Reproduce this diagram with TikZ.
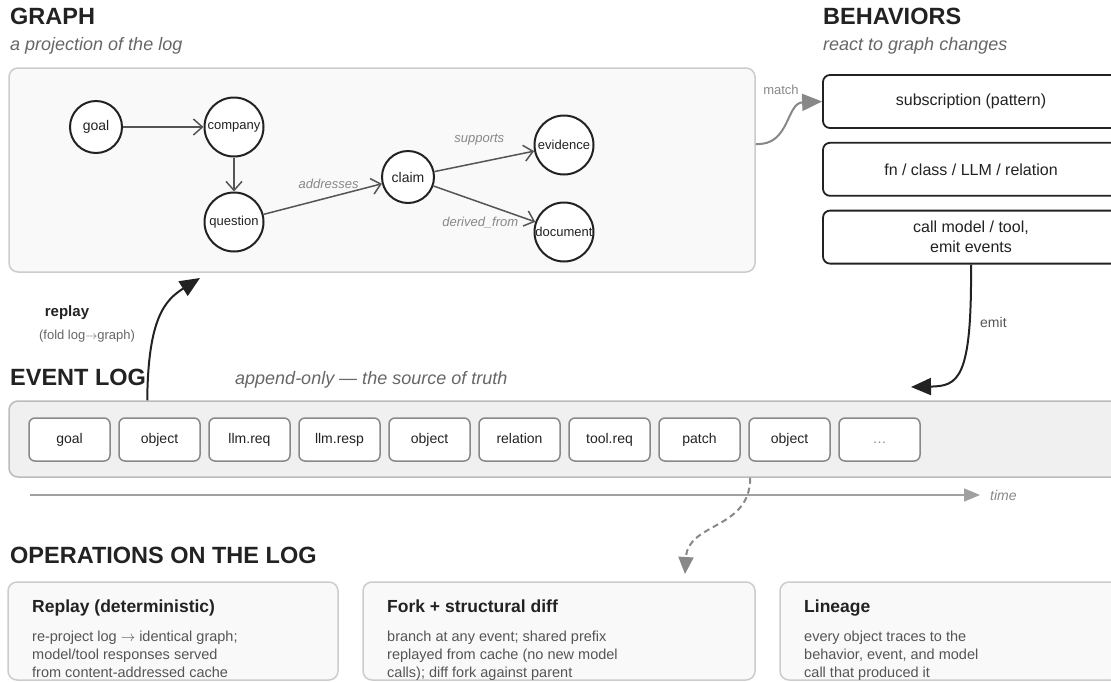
\documentclass[tikz,border=0pt]{standalone}
\usepackage{fontspec}
\setmainfont{Liberation Sans}
\usetikzlibrary{positioning}
\usetikzlibrary{arrows.meta}

\definecolor{ink}{HTML}{222222}
\definecolor{edgegray}{HTML}{555555}
\definecolor{labelgray}{HTML}{888888}
\definecolor{subgray}{HTML}{666666}
\definecolor{panelfill}{HTML}{F9F9F9}
\definecolor{panelline}{HTML}{CCCCCC}
\definecolor{logfill}{HTML}{F0F0F0}
\definecolor{logline}{HTML}{BBBBBB}
\definecolor{eventline}{HTML}{888888}

\tikzset{
        % Section headings
        head_title/.style={anchor=base west, inner sep=0pt, text=ink, font=\fontsize{23.5}{28}\selectfont\bfseries},
        head_sub/.style={anchor=base west, inner sep=0pt, text=subgray, font=\fontsize{18}{22}\selectfont\itshape},
        % Panels
        box_panel/.style={rectangle, rounded corners=9pt, draw=panelline, fill=panelfill, line width=1.5pt},
        box_log/.style={rectangle, rounded corners=9pt, draw=logline, fill=logfill, line width=1.5pt},
        % Graph objects
        node_obj/.style={circle, draw=ink, line width=2pt, fill=white, inner sep=0pt, minimum size=52pt, text=ink, font=\fontsize{14}{16}\selectfont},
        node_obj_wide/.style={node_obj, minimum size=59pt, font=\fontsize{13}{15}\selectfont},
        edge_graph/.style={draw=edgegray, line width=1.5pt, -{Straight Barb[length=9pt, width=16pt]}},
        edge_label/.style={inner sep=1pt, text=labelgray, font=\fontsize{13}{15}\selectfont\itshape},
        % Behaviors
        box_behavior/.style={rectangle, rounded corners=7pt, draw=ink, line width=1.8pt, fill=white, minimum width=296pt, minimum height=53pt, align=center, text=ink, font=\fontsize{16}{20}\selectfont},
        % Events
        box_event/.style={rectangle, rounded corners=6pt, draw=eventline, line width=1.5pt, fill=white, minimum width=81pt, minimum height=43pt, inner sep=0pt, text height=10pt, text depth=3pt, text=ink, font=\fontsize{14}{16}\selectfont},
        % Flows between sections
        flow_main/.style={draw=ink, line width=2pt, -{Triangle[length=20pt, width=17pt]}},
        flow_soft/.style={draw=labelgray, line width=2pt, -{Triangle[length=20pt, width=17pt]}},
        % Operations
        op_title/.style={anchor=base west, inner sep=0pt, text=ink, font=\fontsize{17.5}{21}\selectfont\bfseries},
        op_body/.style={anchor=north west, inner sep=0pt, align=left, text=edgegray, font=\fontsize{14.5}{18}\selectfont}
}

\begin{document}
\begin{tikzpicture}[x=1pt, y=-1pt]
    \useasboundingbox (0,0) rectangle (1111,681);

    % graph
    \node[head_title] (graph_title) at (10,24) {GRAPH};
    \node[head_sub] (graph_sub) at (10,50) {a projection of the log};
    \node[box_panel, minimum width=746pt, minimum height=204pt] (graph_box) at (382,170) {};

    \node[node_obj] (goal) at (96,127) {goal};
    \node[node_obj_wide] (company) at (234,127) {company};
    \node[node_obj_wide] (question) at (234,222) {question};
    \node[node_obj] (claim) at (408,177) {claim};
    \node[node_obj_wide] (evidence) at (564,145) {evidence};
    \node[node_obj_wide] (document) at (564,232) {document};

    \draw[edge_graph] (goal) -- (company);
    \draw[edge_graph] (company) -- (question);
    \draw[edge_graph] (question) -- node[edge_label, pos=.55, above=7pt] {addresses} (claim);
    \draw[edge_graph] (claim) -- node[edge_label, pos=.45, above=15pt] {supports} (evidence);
    \draw[edge_graph] (claim) -- node[edge_label, pos=.46, below=13pt] {derived\_from} (document);

    % behaviors
    \node[head_title] (beh_title) at (823,24) {BEHAVIORS};
    \node[head_sub] (beh_sub) at (823,50) {react to graph changes};
    \node[box_behavior] (beh_sub_box) at (971,101.5) {subscription (pattern)};
    \node[box_behavior, below=13pt of beh_sub_box] (beh_fn) {fn / class / LLM / relation};
    \node[box_behavior, below=13pt of beh_fn] (beh_call) {call model / tool,\\emit events};

    \draw[flow_soft] ([yshift=26pt]graph_box.east) .. controls (790,146) and (786,103) .. (beh_sub_box.west);
    \node[anchor=base, inner sep=0pt, text=labelgray, font=\fontsize{13}{15}\selectfont] (match_lbl) at (781,94) {match};

    % event log
    \node[head_title] (log_title) at (10,385) {EVENT LOG};
    \node[head_sub] (log_sub) at (235,384) {append-only — the source of truth};
    \node[box_log, minimum width=1116pt, minimum height=76pt] (event_log) at (567,439) {};

    \node[box_event] (ev1) at (69.5,439.5) {goal};
    \node[box_event, right=7.5pt of ev1] (ev2) {object};
    \node[box_event, right=7.5pt of ev2] (ev3) {llm.req};
    \node[box_event, right=7.5pt of ev3] (ev4) {llm.resp};
    \node[box_event, right=7.5pt of ev4] (ev5) {object};
    \node[box_event, right=7.5pt of ev5] (ev6) {relation};
    \node[box_event, right=7.5pt of ev6] (ev7) {tool.req};
    \node[box_event, right=7.5pt of ev7] (ev8) {patch};
    \node[box_event, right=7.5pt of ev8] (ev9) {object};
    \node[box_event, right=7.5pt of ev9] (ev10) {\textcolor{labelgray}{\dots}};

    % time axis
    \coordinate (time_start) at (30,495);
    \coordinate (time_end) at (980,495);
    \node[anchor=west, inner sep=0pt, text=labelgray, font=\fontsize{14}{16}\selectfont\itshape] (time_lbl) at (990,495) {time};
    \draw[draw=labelgray!80, line width=1.5pt, -{Triangle[length=16pt, width=13pt]}] (time_start) -- (time_end);

    % replay and emit
    \coordinate (replay_tip) at (200,278);
    \draw[flow_main] ([xshift=139pt]event_log.north west) .. controls (148,318) and (165,300) .. (replay_tip);
    \node[anchor=base, inner sep=0pt, text=ink, font=\fontsize{15}{18}\selectfont\bfseries] (replay_lbl) at (67,316) {replay};
    \node[anchor=base, inner sep=0pt, text=subgray, font=\fontsize{13}{15}\selectfont] (replay_sub) at (87,339) {(fold log$\rightarrow$graph)};

    \coordinate (emit_tip) at (911,387);
    \draw[flow_main] (beh_call.south) .. controls (972,380) and (958,386) .. (emit_tip);
    \node[anchor=west, inner sep=0pt, text=edgegray, font=\fontsize{14}{16}\selectfont] (emit_lbl) at (980,322) {emit};

    % operations
    \node[head_title] (ops_title) at (10,563) {OPERATIONS ON THE LOG};
    \node[box_panel, minimum width=330pt, minimum height=98pt] (op_replay) at (173,631) {};
    \node[box_panel, minimum width=392pt, minimum height=98pt] (op_fork) at (559,631) {};
    \node[box_panel, minimum width=340pt, minimum height=98pt] (op_lineage) at (950,631) {};

    \coordinate (fork_tip) at (685,574);
    \draw[flow_soft, dashed, dash pattern=on 6pt off 4pt, -{Triangle[length=17pt, width=15pt]}] ([xshift=742pt]event_log.south west) .. controls (750,530) and (688,522) .. (fork_tip);

    \node[op_title] (op_replay_title) at (32,612) {Replay (deterministic)};
    \node[op_body] (op_replay_body) at (32,631) {re-project log $\rightarrow$ identical graph;\\model/tool responses served\\from content-addressed cache};
    \node[op_title] (op_fork_title) at (387,612) {Fork + structural diff};
    \node[op_body] (op_fork_body) at (387,631) {branch at any event; shared prefix\\replayed from cache (no new model\\calls); diff fork against parent};
    \node[op_title] (op_lineage_title) at (804,612) {Lineage};
    \node[op_body] (op_lineage_body) at (804,631) {every object traces to the\\behavior, event, and model\\call that produced it};
\end{tikzpicture}
\end{document}
